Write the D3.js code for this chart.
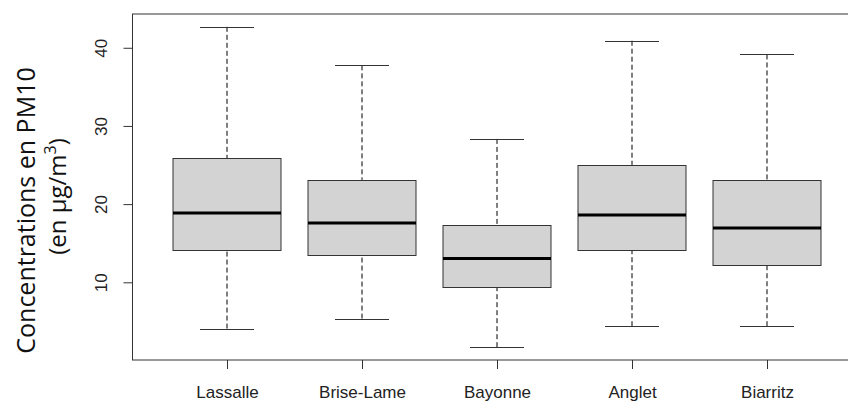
<!DOCTYPE html>
<html>
<head>
<meta charset="utf-8">
<script src="https://cdn.jsdelivr.net/npm/d3@7"></script>
<style>
    body { margin: 0; background: #fff; }
    svg { display: block; }
    .axis text { font-family: 'Liberation Sans', Arial, sans-serif; font-size: 17px; fill: #222; }
    .axis line { stroke: #333; }
    .ytitle { font-family: 'Open Sans', 'Noto Sans', sans-serif; font-size: 25px; fill: #111; }
</style>
</head>
<body>
<script>
// PM10 concentrations per site (boxplot stats)
const sites = ['Lassalle', 'Brise-Lame', 'Bayonne', 'Anglet', 'Biarritz']
const whiskerLow = [4.08, 5.36, 1.70, 4.38, 4.38]
const q1 = [14.08, 13.45, 9.45, 14.08, 12.17]
const median = [18.85, 17.58, 13.06, 18.60, 16.94]
const q3 = [25.88, 23.10, 17.28, 25.02, 23.10]
const whiskerHigh = [42.68, 37.75, 28.34, 40.90, 39.15]
const yTicks = [10, 20, 30, 40]

const totalWidth = 848
const totalHeight = 401

// plot region, the right edge of the frame falls outside the window
const margin = { top: 14, right: -13.5, bottom: 41, left: 132.5 }
const width = totalWidth - margin.left - margin.right
const height = totalHeight - margin.top - margin.bottom

const data = sites.map((name, i) => ({
    name,
    idx: i + 1,
    lo: whiskerLow[i],
    q1: q1[i],
    med: median[i],
    q3: q3[i],
    hi: whiskerHigh[i]
}))

const svg = d3.select('body').append('svg')
    .attr('width', totalWidth)
    .attr('height', totalHeight)

const g = svg.append('g')
    .attr('transform', `translate(${margin.left}, ${margin.top})`)

// R style ranges: 4% padding on each side
const n = sites.length
const xScale = d3.scaleLinear()
    .domain([0.5 - 0.04 * n, n + 0.5 + 0.04 * n])
    .range([0, width])

const [yMin, yMax] = d3.extent([...whiskerLow, ...whiskerHigh])
const pad = (yMax - yMin) * 0.04
const yScale = d3.scaleLinear()
    .domain([yMin - pad, yMax + pad])
    .range([height, 0])

const boxW = xScale(1.4) - xScale(1)   // half width of a box (0.8 units wide)
const capW = boxW / 2

const boxes = g.selectAll('.box')
    .data(data)
    .enter().append('g')
    .attr('class', 'box')

// whiskers, from the end to the box edge
boxes.selectAll('.whisker')
    .data(d => [[d.lo, d.q1], [d.hi, d.q3]].map(v => ({ x: d.idx, v })))
    .enter().append('line')
    .attr('class', 'whisker')
    .attr('x1', d => xScale(d.x))
    .attr('x2', d => xScale(d.x))
    .attr('y1', d => yScale(d.v[0]))
    .attr('y2', d => yScale(d.v[1]))
    .attr('stroke', '#000')
    .attr('stroke-dasharray', '5,3')

// staples
boxes.selectAll('.cap')
    .data(d => [d.lo, d.hi].map(v => ({ x: d.idx, v })))
    .enter().append('line')
    .attr('class', 'cap')
    .attr('x1', d => xScale(d.x) - capW)
    .attr('x2', d => xScale(d.x) + capW)
    .attr('y1', d => Math.round(yScale(d.v)) + 0.5)
    .attr('y2', d => Math.round(yScale(d.v)) + 0.5)
    .attr('stroke', '#333')

boxes.append('rect')
    .attr('x', d => xScale(d.idx) - boxW)
    .attr('width', boxW * 2)
    .attr('y', d => Math.round(yScale(d.q3)) + 0.5)
    .attr('height', d => Math.round(yScale(d.q1)) - Math.round(yScale(d.q3)))
    .attr('fill', '#d3d3d3')
    .attr('stroke', '#333')

boxes.append('line')
    .attr('x1', d => xScale(d.idx) - boxW)
    .attr('x2', d => xScale(d.idx) + boxW)
    .attr('y1', d => yScale(d.med))
    .attr('y2', d => yScale(d.med))
    .attr('stroke', '#000')
    .attr('stroke-width', 3)

// frame
g.append('rect')
    .attr('x', 0)
    .attr('y', 0)
    .attr('width', width)
    .attr('height', height)
    .attr('fill', 'none')
    .attr('stroke', '#333')

const xAxis = d3.axisBottom(xScale)
    .tickValues(d3.range(1, n + 1))
    .tickFormat(i => sites[i - 1])
    .tickSize(9)
    .tickSizeOuter(0)

g.append('g')
    .attr('class', 'x axis')
    .attr('transform', `translate(0, ${height})`)
    .call(xAxis)
    .call(ax => ax.select('.domain').remove())
    .call(ax => ax.selectAll('text')
        .attr('dy', null)
        .attr('y', 38))

const yAxis = d3.axisLeft(yScale)
    .tickValues(yTicks)
    .tickSize(9)
    .tickSizeOuter(0)

g.append('g')
    .attr('class', 'y axis')
    .call(yAxis)
    .call(ax => ax.select('.domain').remove())
    .call(ax => ax.selectAll('text')
        .attr('x', null)
        .attr('dy', null)
        .attr('text-anchor', 'middle')
        .attr('transform', 'translate(-25.5, 0) rotate(-90)'))

// y title on two lines
svg.append('text')
    .attr('class', 'ytitle')
    .attr('text-anchor', 'middle')
    .attr('transform', 'translate(35, 210.5) rotate(-90)')
    .text('Concentrations en PM10')

const t2 = svg.append('text')
    .attr('class', 'ytitle')
    .attr('text-anchor', 'middle')
    .style('font-size', '24px')
    .attr('transform', 'translate(66, 196.5) rotate(-90)')
t2.append('tspan').text('(en µg/m')
t2.append('tspan').attr('dy', -10).style('font-size', '16px').text('3')
t2.append('tspan').attr('dy', 10).text(')')
</script>
</body>
</html>
